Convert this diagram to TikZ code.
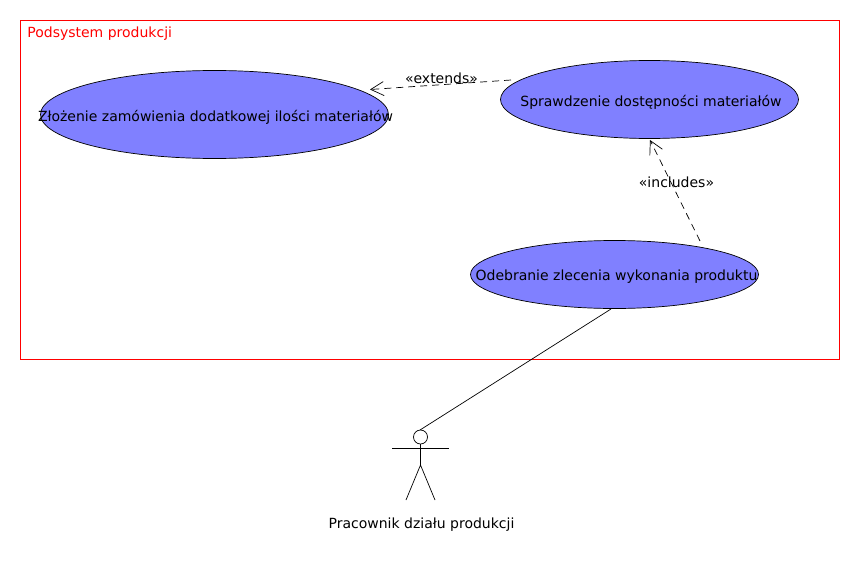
\documentclass[tikz,border=0pt]{standalone}
\usepackage{fontspec}
\setmainfont{DejaVu Sans}
\usetikzlibrary{shapes.geometric, arrows.meta}
\definecolor{usecase}{RGB}{128, 128, 255}
\tikzset{
  txt/.style={font=\fontsize{14pt}{16pt}\selectfont, inner sep=0pt},
  usecase/.style={draw, ellipse, fill=usecase, inner sep=0pt},
  dep/.style={dash pattern=on 7pt off 5pt, -{Straight Barb[length=13pt, width=14pt]}}
}
\begin{document}
\begin{tikzpicture}[x=1pt, y=-1pt, line width=0.7pt]

  \useasboundingbox (0, 0) rectangle (860, 570);

  \draw[color=red] (20.5, 20.5) rectangle (839.5, 359.5);
  \node[txt, anchor=west, color=red] (sys) at (27, 33.5) {Podsystem produkcji};

  \node[usecase, minimum width=348pt, minimum height=88pt] (extra) at (214.5, 114.5) {};
  \node[usecase, minimum width=298pt, minimum height=78pt] (check) at (649.5, 99.5) {};
  \node[usecase, minimum width=288pt, minimum height=68pt] (order) at (614.5, 274.5) {};
  \node[txt] (extratxt) at (215.5, 117.5) {Złożenie zamówienia dodatkowej ilości materiałów};
  \node[txt] (checktxt) at (651, 102) {Sprawdzenie dostępności materiałów};
  \node[txt] (ordertxt) at (616.5, 277) {Odebranie zlecenia wykonania produktu};

  % actor
  \node[draw, circle, minimum size=14pt, inner sep=0pt] (actor) at (420.5, 437) {};
  \coordinate (hip) at (420.5, 465);
  \coordinate (armL) at (392, 448);
  \coordinate (armR) at (449, 448);
  \coordinate (footL) at (406, 500);
  \coordinate (footR) at (435, 500);
  \draw (actor.south) -- (hip);
  \draw (armL) -- (armR);
  \draw (footL) -- (hip) -- (footR);
  \node[txt] (worker) at (421.5, 524.5) {Pracownik działu produkcji};

  % connectors
  \coordinate (extStart) at (511, 80);
  \coordinate (extEnd) at (370, 89.5);
  \coordinate (incStart) at (700, 241);
  \coordinate (incEnd) at (650, 140);
  \coordinate (assocA) at (611, 309);
  \coordinate (assocB) at (420, 430);
  \draw[dep] (extStart) -- (extEnd);
  \node[txt] (extlbl) at (441.5, 78.5) {«extends»};
  \draw[dep] (incStart) -- (incEnd);
  \node[txt] (inclbl) at (676.5, 182.5) {«includes»};
  \draw (assocA) -- (assocB);

\end{tikzpicture}
\end{document}
